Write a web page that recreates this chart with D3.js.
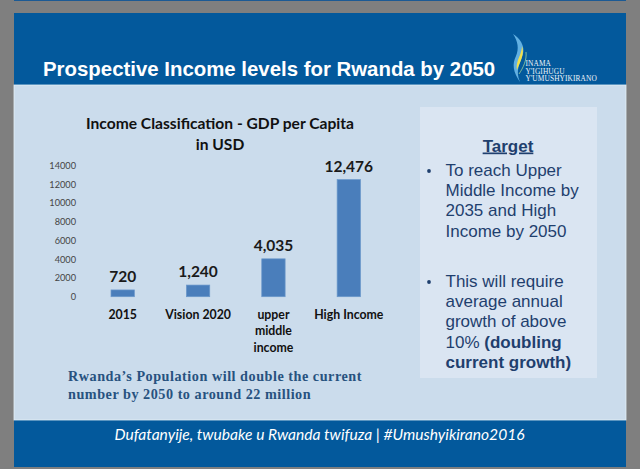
<!DOCTYPE html>
<html>
<head>
<meta charset="utf-8">
<script src="https://cdn.jsdelivr.net/npm/d3@7"></script>
<style>
html, body { margin: 0; padding: 0; background: #7f7f7f; }
svg { display: block; }
</style>
</head>
<body>
<svg id="chart" width="640" height="469"></svg>
<script>
const categories = ["2015", "Vision 2020", "upper middle income", "High Income"];
const values = [720, 1240, 4035, 12476];
const valueLabels = ["720", "1,240", "4,035", "12,476"];
const yTicks = [0, 2000, 4000, 6000, 8000, 10000, 12000, 14000];
const categoryLines = [["2015"], ["Vision 2020"], ["upper", "middle", "income"], ["High Income"]];

const svg = d3.select("#chart");
const sans = "'Liberation Sans', Arial, sans-serif";
const lato = "Lato, sans-serif";

// slide background
svg.append("rect").attr("x", 0).attr("y", 0).attr("width", 640).attr("height", 469).attr("fill", "#7f7f7f");
svg.append("rect").attr("x", 14).attr("y", 0).attr("width", 612).attr("height", 1).attr("fill", "#1c5a94");
svg.append("rect").attr("x", 14).attr("y", 13).attr("width", 612).attr("height", 454).attr("fill", "#03599c");
svg.append("rect").attr("x", 14).attr("y", 85).attr("width", 612).attr("height", 335)
  .attr("fill", "#cbdcec").attr("stroke", "#e4eff7").attr("stroke-width", 0.8);

svg.append("text").attr("x", 43).attr("y", 76)
  .attr("font-family", sans).attr("font-weight", "bold").attr("font-size", 20.4)
  .attr("fill", "#fff").text("Prospective Income levels for Rwanda by 2050");

// logo
const logo = svg.append("g");
logo.append("path").attr("d", "M513 34C520 38 525 46 523 54C520 64 515 70 520 82C513 72 512 64 516 56C519 49 518 41 513 34Z").attr("fill", "#62b0e2");
logo.append("path").attr("d", "M522 46C525 54 520 62 517 70C516 64 518 60 520 55C521 52 522 49 522 46Z").attr("fill", "#f2e04a");
logo.append("path").attr("d", "M526 52C527 60 523 68 519 74").attr("fill", "none").attr("stroke", "#9ccf9a").attr("stroke-width", 0.8);
const logoLines = ["INAMA", "Y'IGIHUGU", "Y'UMUSHYIKIRANO"];
svg.append("g").selectAll("text").data(logoLines).join("text")
  .attr("x", 525.5).attr("y", (d, i) => 65.7 + i * 7.8)
  .attr("font-family", "'Liberation Serif', serif").attr("font-size", 7.4).attr("letter-spacing", 0.1).attr("fill", "#eef4f9")
  .text(d => d);

// chart
const y = d3.scaleLinear().domain([0, 14000]).range([296.7, 165.3]);
const x = d3.scaleBand().domain(categories).range([85, 386.5]).paddingInner(0.69).paddingOuter(0.345);

const title = svg.append("g").attr("font-family", lato).attr("font-weight", "bold").attr("font-size", 15.6)
  .attr("fill", "#111").attr("text-anchor", "middle");
title.append("text").attr("x", 220).attr("y", 129).text("Income Classification - GDP per Capita");
title.append("text").attr("x", 220).attr("y", 150).text("in USD");

const yAxis = d3.axisLeft(y).tickValues(yTicks).tickSize(0).tickPadding(0).tickFormat(d3.format("d"));
const axisG = svg.append("g").attr("transform", "translate(76,0)").call(yAxis);
axisG.select(".domain").remove();
axisG.selectAll("text").attr("font-family", lato).attr("font-size", 9.2).attr("fill", "#444");

svg.append("g").selectAll("rect").data(values).join("rect")
  .attr("x", (d, i) => x(categories[i]))
  .attr("y", d => y(d))
  .attr("width", x.bandwidth())
  .attr("height", d => y(0) - y(d))
  .attr("fill", "#4a7ebb")
  .attr("stroke", "#6b98cb").attr("stroke-width", 0.7);

svg.append("g").selectAll("text").data(values).join("text")
  .attr("x", (d, i) => x(categories[i]) + x.bandwidth() / 2)
  .attr("y", d => y(d) - 8)
  .attr("text-anchor", "middle")
  .attr("font-family", lato).attr("font-weight", "bold").attr("font-size", 15.5).attr("fill", "#1a1a1a")
  .text((d, i) => valueLabels[i]);

const catG = svg.append("g").attr("font-family", lato).attr("font-weight", "bold").attr("font-size", 12.3)
  .attr("fill", "#111").attr("text-anchor", "middle");
categoryLines.forEach((lines, i) => {
  lines.forEach((line, k) => {
    catG.append("text")
      .attr("x", x(categories[i]) + x.bandwidth() / 2)
      .attr("y", 319 + k * 16.3)
      .text(line);
  });
});

const noteLines = ["Rwanda\u2019s Population will double the current", "number by 2050 to around 22 million"];
svg.append("g").selectAll("text").data(noteLines).join("text")
  .attr("x", 68).attr("y", (d, i) => 381 + i * 18)
  .attr("font-family", "'Liberation Serif', serif").attr("font-weight", "bold").attr("font-size", 14.2)
  .attr("fill", "#27527f").attr("letter-spacing", 0.52)
  .text(d => d);

// target box
svg.append("rect").attr("x", 420).attr("y", 107).attr("width", 177).attr("height", 271).attr("fill", "#dae5f2");
const textBlue = "#1f3f6e";
svg.append("text").attr("x", 508).attr("y", 151.5).attr("text-anchor", "middle")
  .attr("font-family", sans).attr("font-weight", "bold").attr("font-size", 17)
  .attr("fill", textBlue).attr("text-decoration", "underline").text("Target");

const targetLines = [
  [176, "To reach Upper"], [196, "Middle Income by"], [216, "2035 and High"], [237, "Income by 2050"],
  [287, "This will require"], [307, "average annual"], [327, "growth of above"]
];
const tg = svg.append("g").attr("font-family", sans).attr("font-size", 17).attr("fill", textBlue);
tg.selectAll("text").data(targetLines).join("text")
  .attr("x", 445.5).attr("y", d => d[0]).text(d => d[1]);
const l4 = tg.append("text").attr("x", 445.5).attr("y", 348);
l4.append("tspan").text("10% ");
l4.append("tspan").attr("font-weight", "bold").text("(doubling");
tg.append("text").attr("x", 445.5).attr("y", 368).attr("font-weight", "bold").text("current growth)");
[171, 282].forEach(b => {
  svg.append("circle").attr("cx", 429).attr("cy", b).attr("r", 1.9).attr("fill", textBlue);
});

svg.append("text").attr("x", 319.5).attr("y", 440).attr("text-anchor", "middle")
  .attr("font-family", lato).attr("font-style", "italic").attr("font-size", 15.6)
  .attr("fill", "#fff").text("Dufatanyije, twubake u Rwanda twifuza | #Umushyikirano2016");
</script>
</body>
</html>
